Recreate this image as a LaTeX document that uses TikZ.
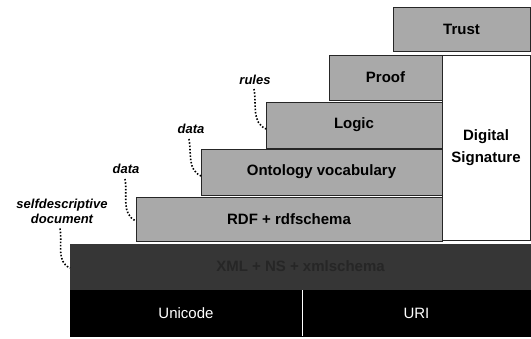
\documentclass[tikz,border=0pt]{standalone}
\usepackage{fontspec}
\setmainfont{Liberation Sans}
\usetikzlibrary{positioning}
\definecolor{layergray}{HTML}{A9A9A9}
\definecolor{xmlgray}{HTML}{363636}
\tikzset{
  layer/.style={draw=black!85, line width=0.8pt, fill=layergray, anchor=north west,
    inner sep=0pt, outer sep=0pt, font=\fontsize{15}{17}\selectfont\bfseries, text=black},
  sigbox/.style={layer, fill=white, align=center, font=\fontsize{15}{22}\selectfont\bfseries},
  xmllayer/.style={layer, fill=xmlgray, draw=xmlgray, text=black!85},
  baselayer/.style={layer, fill=black, draw=black, text=white, font=\fontsize{15}{17}\selectfont},
  note/.style={font=\fontsize{13}{15}\selectfont\bfseries\itshape, align=center, inner sep=0pt},
  dots/.style={line width=1.6pt, dash pattern=on 1.5pt off 1.8pt, black}
}
\begin{document}
\begin{tikzpicture}[x=1pt,y=-1pt]
\useasboundingbox (0,0) rectangle (531,338);
% layers
\node[layer, minimum width=137pt, minimum height=44pt] (trust) at (393,7) {Trust};
\node[sigbox, minimum width=88pt, minimum height=185pt] (sig) at (442,55) {Digital\\Signature};
\node[layer, minimum width=113pt, minimum height=45pt] (proof) at (329,55) {Proof};
\node[layer, minimum width=176pt, minimum height=46pt] (logic) at (266,102) {Logic};
\node[layer, minimum width=241pt, minimum height=46pt] (onto) at (201,149) {Ontology vocabulary};
\node[layer, minimum width=306pt, minimum height=44pt] (rdf) at (136,197) {RDF + rdfschema};
\node[xmllayer, minimum width=461pt, minimum height=47pt] (xml) at (70,243) {XML + NS + xmlschema};
\node[baselayer, minimum width=232pt, minimum height=46pt] (uni) at (70,290) {Unicode};
\node[baselayer, minimum width=229pt, minimum height=46pt] (uri) at (302,290) {URI};
\draw[white, line width=0.6pt] (uni.north east) -- (uni.south east);
\draw[white, line width=0.8pt] (xml.north west) -- (xml.north east);
% notes
\node[note] (nrules) at (255,80) {rules};
\node[note] (ndata1) at (191,129) {data};
\node[note] (ndata2) at (126,169) {data};
\node[note] (nself) at (62,211) {selfdescriptive\\document};
\coordinate (erules) at ([yshift=-4pt]logic.west);
\coordinate (edata1) at ([yshift=-4pt]onto.west);
\coordinate (edata2) at (136,221);
\coordinate (eself) at (70,268);
\draw[dots] ([xshift=-1pt,yshift=-4pt]nrules.south) to[out=-80,in=155] (erules);
\draw[dots] ([xshift=-2pt,yshift=-5pt]ndata1.south) to[out=-80,in=155] (edata1);
\draw[dots] ([xshift=-1pt,yshift=-5pt]ndata2.south) to[out=-80,in=155] (edata2);
\draw[dots] ([xshift=-2pt,yshift=-5pt]nself.south) to[out=-80,in=155] (eself);
\end{tikzpicture}
\end{document}
